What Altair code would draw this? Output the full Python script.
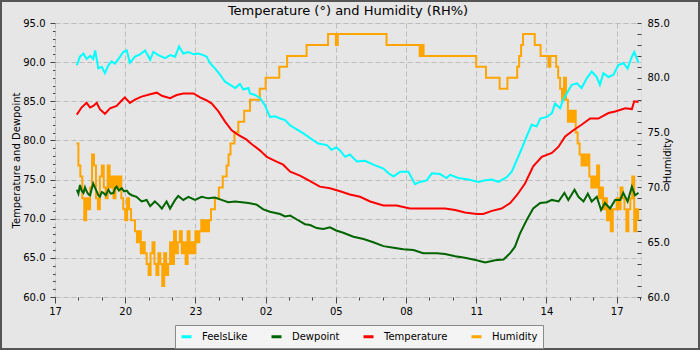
import altair as alt
import pandas as pd

# Time axis: hours after 17:00, spanning one full day plus a little.
START_HOUR = 17
X_END = 25.04
hour_ticks = list(range(0, 26))
left_ticks = list(range(60, 96))
right_ticks = list(range(60, 86))

chart_title = "Temperature (°) and Humidity (RH%)"
series_names = ["FeelsLike", "Dewpoint", "Temperature", "Humidity"]
series_colors = ["#00ffff", "#006400", "#ff0000", "#ffa500"]

# Temperature readings (minutes after 17:00, degrees)
temp_min = [56, 68, 81, 90, 98, 107, 115, 128, 141, 158, 171, 179, 192, 205, 222, 244,
            261, 274, 295, 312, 329, 355, 372, 389, 402, 419, 436, 453, 470, 491,
            500, 526, 543, 568, 585, 603, 628, 654, 679, 705, 731, 756, 782, 808, 842,
            876, 910, 944, 979, 1000, 1026, 1051, 1081, 1098, 1120, 1145, 1167, 1184,
            1205, 1226, 1248, 1274, 1291, 1308, 1329, 1350, 1372, 1393, 1419, 1436,
            1462, 1479, 1485, 1496]
temp_val = [83.3, 84.2, 84.8, 84.2, 84.4, 84.8, 84.0, 83.4, 84.1, 84.4, 85.1, 85.5, 84.8,
            85.2, 85.6, 85.9, 86.1, 85.7, 85.4, 85.8, 86.0, 86.0, 85.5, 85.1, 84.7, 83.7,
            82.4, 81.3, 80.7, 80.1, 79.7, 78.7, 77.9, 77.3, 76.9, 76.0, 75.5, 74.8, 74.1,
            73.9, 73.5, 73.1, 72.8, 72.2, 71.7, 71.7, 71.3, 71.3, 71.3, 71.3, 71.1, 70.8,
            70.6, 70.6, 71.0, 71.3, 72.0, 73.0, 74.5, 76.7, 77.9, 78.4, 79.2, 80.5, 81.3,
            82.0, 82.8, 82.8, 83.5, 83.7, 84.1, 84.0, 85.0, 84.9]

# Feels-like readings
feels_min = [56, 64, 73, 81, 90, 98, 103, 111, 120, 128, 137, 145, 154, 167, 175, 184, 192,
             205, 218, 231, 244, 252, 265, 282, 295, 308, 318, 329, 342, 355, 368, 380,
             389, 397, 410, 423, 436, 449, 462, 474, 483, 496,
             500, 513, 526, 538, 551, 564, 577, 590, 603, 620, 637, 654, 675, 697, 709,
             721, 731, 744, 756, 774, 795, 816, 842, 855, 868, 885, 906, 923, 936, 953,
             966, 987, 1004, 1013, 1034, 1060, 1085, 1103, 1120, 1137, 1158, 1171, 1184,
             1197, 1209, 1222, 1235, 1244, 1261, 1274, 1282, 1295, 1303, 1312, 1325,
             1338, 1350, 1363, 1376, 1389, 1397, 1406, 1419, 1432, 1444, 1457, 1468,
             1479, 1485, 1496]
feels_val = [89.6, 90.7, 91.1, 90.4, 90.8, 90.4, 91.5, 89.2, 89.4, 88.6, 89.6, 90.1, 89.8,
             90.7, 91.3, 91.5, 89.9, 90.7, 91.0, 91.5, 90.3, 91.3, 90.9, 90.5, 90.9, 90.7,
             92.0, 91.1, 91.3, 91.0, 91.1, 90.9, 90.7, 89.9, 89.2, 88.4, 87.5, 87.1, 86.7,
             87.2, 86.5, 86.7,
             86.0, 85.8, 85.4, 84.5, 83.0, 83.1, 82.8, 82.6, 81.9, 81.4, 80.9, 80.3, 79.6,
             79.4, 78.8, 79.1, 78.7, 77.9, 78.2, 77.3, 77.4, 76.9, 76.4, 75.8, 75.4, 76.0,
             76.0, 74.4, 74.7, 74.9, 75.8, 75.7, 75.2, 75.6, 75.2, 75.0, 74.7, 74.9, 75.0,
             74.7, 75.3, 76.0, 77.5, 79.0, 80.5, 82.0, 81.8, 82.8, 83.0, 83.5, 84.7, 84.1,
             85.2, 86.0, 87.1, 87.3, 86.7, 87.9, 88.8, 88.1, 87.1, 88.6, 88.1, 88.4, 89.6,
             89.9, 89.2, 90.7, 91.3, 89.9]

# Dewpoint readings
dew_min = [56, 60, 64, 68, 73, 77, 81, 86, 90, 94, 98, 103, 107, 111, 115, 120, 124, 130,
           137, 143, 150, 154, 158, 164, 171, 177, 184, 190, 197, 209, 222, 235, 244, 256,
           265, 274, 286, 295, 308, 316, 329, 342, 359, 376, 393, 410, 427, 444, 462, 479,
           496, 517, 534, 551, 577, 590, 603, 620, 641, 654, 671, 688, 705, 721, 739, 765,
           791, 816, 842, 868, 893, 919, 944, 979, 1000, 1026, 1051, 1081, 1103, 1128,
           1150, 1167, 1179, 1192, 1209, 1226, 1244, 1261, 1274, 1291, 1306, 1316, 1332,
           1342, 1355, 1366, 1376, 1389, 1400, 1410, 1423, 1436, 1449, 1457, 1468, 1479,
           1487, 1496]
dew_val = [73.7, 73.2, 74.3, 73.6, 73.3, 74.0, 73.5, 73.1, 73.0, 73.8, 74.5, 73.9, 73.5,
           73.0, 72.8, 73.4, 73.3, 73.0, 73.7, 73.2, 73.3, 73.9, 74.1, 73.6, 73.9, 73.5,
           73.6, 73.2, 73.0, 72.8, 72.2, 72.4, 71.6, 72.2, 71.8, 71.3, 72.2, 71.3, 72.4,
           72.9, 72.4, 72.8, 72.4, 72.8, 72.6, 72.7, 72.4, 72.1, 72.2, 72.1, 72.0, 71.8,
           71.2, 70.9, 70.6, 70.3, 70.4, 69.9, 69.3, 69.2, 68.8, 68.7, 68.9, 68.5, 68.2,
           67.7, 67.4, 67.0, 66.5, 66.3, 66.1, 66.0, 65.6, 65.6, 65.5, 65.2, 65.0, 64.7,
           64.4, 64.7, 64.8, 65.6, 66.4, 68.1, 69.8, 71.3, 72.0, 72.1, 72.4, 72.2, 73.3,
           72.4, 73.7, 72.8, 72.2, 73.2, 72.2, 72.8, 71.1, 72.0, 71.3, 72.4, 72.4, 73.3,
           72.2, 74.1, 73.0, 73.3]

# Relative humidity, one reading every 5 minutes from 17:55; each row is one hour
HUM_START_MIN = 55
HUM_STEP_MIN = 5
hum_val = [
    74, 72, 71, 69, 67, 69, 68, 70, 73, 72, 69, 68,   # 17:55
    71, 72, 70, 69, 72, 70, 71, 69, 71, 70, 71, 69,   # 18:55
    68, 67, 69, 68, 67, 67, 66, 65, 66, 64, 65, 64,   # 19:55
    63, 62, 64, 65, 63, 62, 64, 63, 61, 64, 62, 63,   # 20:55
    65, 63, 66, 64, 65, 66, 64, 65, 63, 66, 64, 65,   # 21:55
    64, 66, 65, 66, 67, 66, 67, 66, 67, 68, 68, 69,   # 22:55
    69, 70, 70, 71, 71, 72, 73, 74, 74, 75, 75, 76,   # 23:55
    76, 76, 77, 77, 77, 78, 78, 78, 78, 78, 79, 79,   # 00:55
    79, 80, 80, 80, 80, 80, 80, 80, 81, 81, 81, 81,   # 01:55
    82, 82, 82, 82, 82, 82, 82, 82, 82, 82, 83, 83,   # 02:55
    83, 83, 83, 83, 83, 83, 83, 83, 83, 84, 84, 84,   # 03:55
    84, 83, 84, 84, 84, 84, 84, 84, 84, 84, 84, 84,   # 04:55
    84, 84, 84, 84, 84, 84, 84, 84, 84, 84, 84, 84,   # 05:55
    84, 84, 84, 83, 83, 83, 83, 83, 83, 83, 83, 83,   # 06:55
    83, 83, 83, 83, 83, 83, 83, 83, 82, 83, 82, 82,   # 07:55
    82, 82, 82, 82, 82, 82, 82, 82, 82, 82, 82, 82,   # 08:55
    82, 82, 82, 82, 82, 82, 82, 82, 82, 82, 82, 82,   # 09:55
    82, 81, 81, 81, 81, 81, 80, 80, 80, 80, 80, 80,   # 10:55
    80, 79, 79, 79, 79, 80, 80, 80, 80, 80, 81, 82,   # 11:55
    83, 84, 84, 84, 84, 84, 84, 83, 83, 83, 82, 82,   # 12:55
    82, 82, 81, 82, 82, 82, 81, 80, 79, 78, 80, 78,   # 13:55
    76, 77, 76, 77, 75, 74, 73, 72, 73, 72, 73, 71,   # 14:55
    70, 71, 70, 72, 69, 70, 68, 69, 67, 68, 66, 68,   # 15:55
    68, 69, 68, 70, 69, 68, 66, 68, 69, 71, 66, 68,   # 16:55
    67,                                               # 17:55
]

rows = []
for name, mins, vals in [("FeelsLike", feels_min, feels_val),
                         ("Dewpoint", dew_min, dew_val),
                         ("Temperature", temp_min, temp_val)]:
    for m, v in zip(mins, vals):
        rows.append({"hours": m / 60.0, "value": v, "series": name})
temp_df = pd.DataFrame(rows)

hum_df = pd.DataFrame({
    "hours": [(HUM_START_MIN + i * HUM_STEP_MIN) / 60.0 for i in range(len(hum_val))],
    "value": hum_val,
    "series": "Humidity",
})

FONT = "DejaVu Sans"
GRID_COLOR = "#bcbcbc"
TICK_COLOR = "#444444"

color = alt.Color(
    "series:N",
    scale=alt.Scale(domain=series_names, range=series_colors),
    legend=alt.Legend(
        title=None, orient="none", direction="horizontal",
        legendX=120, legendY=302,
        fillColor="#f4f4f4", strokeColor="#8a8a8a", padding=5,
        symbolType="stroke", symbolStrokeWidth=3, symbolSize=100,
        labelFontSize=10, labelFont=FONT, labelColor="#000000",
        labelOffset=9, columnPadding=17, cornerRadius=0,
    ),
)

hour_label = ("datum.value % 3 === 0 ? "
              "(((datum.value + 17) % 24) < 10 ? '0' : '') + ((datum.value + 17) % 24) : ''")

x_enc = alt.X(
    "hours:Q",
    scale=alt.Scale(domain=[0, X_END], nice=False, zero=False),
    axis=alt.Axis(
        title=None, values=hour_ticks, labelExpr=hour_label,
        labelOverlap=False, labelFlush=False, domain=False,
        grid=True, gridColor=GRID_COLOR, gridDash=[5, 3],
        gridOpacity={"condition": {"test": "datum.value % 3 === 0", "value": 1}, "value": 0},
        tickSize={"condition": {"test": "datum.value % 3 === 0", "value": 6}, "value": 3},
        tickColor=TICK_COLOR, labelPadding=3,
        labelFontSize=10, labelFont=FONT, labelColor="#000000",
    ),
)

temp_lines = alt.Chart(temp_df).mark_line(strokeWidth=2, clip=True).encode(
    x=x_enc,
    y=alt.Y(
        "value:Q",
        scale=alt.Scale(domain=[60, 95], nice=False, zero=False),
        axis=alt.Axis(
            title="Temperature and Dewpoint", values=left_ticks,
            labelExpr="datum.value % 5 === 0 ? format(datum.value, '.1f') : ''",
            labelOverlap=False, labelFlush=False, domain=False,
            grid=True, gridColor=GRID_COLOR, gridDash=[5, 3],
            gridOpacity={"condition": {"test": "datum.value % 5 === 0", "value": 1}, "value": 0},
            tickSize={"condition": {"test": "datum.value % 5 === 0", "value": 5}, "value": 2.5},
            tickColor=TICK_COLOR, labelPadding=5,
            labelFontSize=10, labelFont=FONT, labelColor="#000000",
            titleFontSize=10, titleFont=FONT, titleFontWeight="normal",
            titleColor="#000000", titlePadding=1,
        ),
    ),
    color=color,
    detail="series:N",
)

hum_line = alt.Chart(hum_df).mark_line(strokeWidth=2, interpolate="step-after", clip=True).encode(
    x=x_enc,
    y=alt.Y(
        "value:Q",
        scale=alt.Scale(domain=[60, 85], nice=False, zero=False),
        axis=alt.Axis(
            title="Humidity", orient="right", values=right_ticks,
            labelExpr="datum.value % 5 === 0 ? format(datum.value, '.1f') : ''",
            labelOverlap=False, labelFlush=False, domain=False, grid=False,
            offset=-4, tickSize=4, tickColor=TICK_COLOR, labelPadding=6,
            labelFontSize=10, labelFont=FONT, labelColor="#000000",
            titleFontSize=10, titleFont=FONT, titleFontWeight="normal",
            titleColor="#000000", titleAngle=270, titlePadding=3,
        ),
    ),
    color=color,
)

# Chart heading, centred over the plot area
heading = alt.Chart(pd.DataFrame({"t": [chart_title]})).mark_text(
    font=FONT, fontSize=13, color="#000000", align="center", baseline="alphabetic"
).encode(
    text="t:N", x=alt.value(293), y=alt.value(-8)
)

# Dark outer frame around the whole figure
frame = alt.Chart(pd.DataFrame({"f": [0]})).mark_rect(
    fill="#000000", fillOpacity=0, stroke="#555555", strokeWidth=2
).encode(
    x=alt.value(-54), x2=alt.value(644), y=alt.value(-22), y2=alt.value(326)
)

chart = alt.layer(hum_line, temp_lines, heading, frame).resolve_scale(
    y="independent"
).properties(
    width=586, height=274,
    background="#e6e6e6",
    padding={"left": 55, "top": 23, "right": 59, "bottom": 53},
    autosize=alt.AutoSizeParams(type="none"),
).configure_view(
    stroke="#9a9a9a", strokeWidth=1, fill="#e6e6e6"
).configure(font=FONT)

chart.save("out.html", embed_options={"renderer": "svg", "actions": False})
